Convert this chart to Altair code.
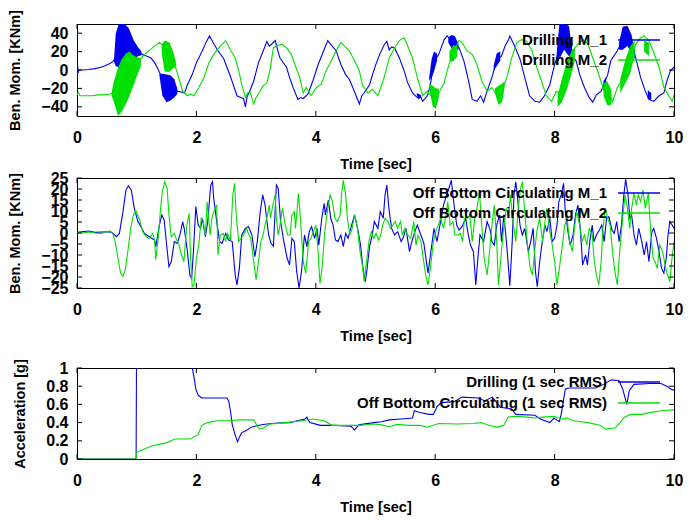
import altair as alt
import pandas as pd

BLUE = "#0000ee"
GREEN = "#00e000"
FONT = "Liberation Sans"

time_ticks = [0, 2, 4, 6, 8, 10]

# ---------------- Panel 1 : Drilling bending moments ----------------
p1_m1 = [(0.00, -10), (0.01, 5), (0.02, -3), (0.03, 0), (0.1, 0), (0.2, 0.5), (0.3, 1.5), (0.4, 3),
         (0.47, 4.5), (0.55, 7), (0.6, 9), (0.63, 12), (0.7, 25), (0.8, 28), (0.9, 24), (1.0, 20),
         (1.05, 18), (1.1, 17), (1.17, 15), (1.24, 13), (1.3, 8), (1.35, 2), (1.4, -5), (1.5, -20),
         (1.6, -22), (1.68, -23), (1.74, -24), (1.8, -25), (1.85, -16), (1.93, -5), (2.0, 8), (2.1, 21),
         (2.16, 30), (2.22, 37), (2.28, 30), (2.35, 22), (2.46, 12), (2.57, -7), (2.68, -28), (2.74, -30),
         (2.79, -31), (2.82, -40), (2.85, -29), (2.9, -22), (2.96, -12), (3.04, 8), (3.12, 21), (3.18, 31),
         (3.22, 26), (3.26, 28), (3.32, 32), (3.36, 22), (3.4, 13), (3.51, 3), (3.56, -8), (3.62, -19),
         (3.7, -32), (3.75, -30), (3.79, -31), (3.87, -26), (3.95, -12), (4.04, 6), (4.12, 19), (4.2, 32),
         (4.26, 27), (4.34, 21), (4.42, 6), (4.5, -5), (4.56, -10), (4.62, -19), (4.7, -32), (4.73, -37),
         (4.77, -28), (4.81, -25), (4.9, -16), (4.95, -5), (5.0, 5), (5.07, 17), (5.15, 28), (5.19, 31),
         (5.23, 22), (5.27, 25), (5.32, 24), (5.4, 13), (5.48, -1), (5.54, -14), (5.62, -25), (5.7, -30),
         (5.75, -28), (5.79, -34), (5.87, -28), (5.92, -16), (5.97, 5), (6.03, 14), (6.06, 17), (6.15, 33),
         (6.2, 37), (6.3, 30), (6.4, 24), (6.48, 10), (6.56, -12), (6.62, -32), (6.7, -34), (6.76, -28),
         (6.81, -35), (6.87, -23), (6.95, -8), (7.0, 3), (7.05, 12), (7.11, 15), (7.17, 26), (7.23, 33),
         (7.25, 37), (7.33, 26), (7.42, 12), (7.5, -8), (7.58, -28), (7.67, -34), (7.75, -35), (7.83, -28),
         (7.92, -16), (8.0, 6), (8.05, 15), (8.18, 35), (8.3, 15), (8.36, 10), (8.42, -5), (8.5, -19),
         (8.58, -30), (8.64, -35), (8.7, -27), (8.78, -23), (8.83, -15), (8.89, -5), (8.94, 10), (9.05, 21),
         (9.14, 32), (9.22, 38), (9.3, 28), (9.36, 13), (9.44, -8), (9.52, -23), (9.58, -32), (9.66, -34),
         (9.75, -28), (9.83, -25), (9.88, -12), (9.94, -1), (10.0, 3)]

p1_m2 = [(0.0, -27), (0.02, -24), (0.05, -28), (0.15, -28), (0.25, -28), (0.35, -27), (0.45, -27),
         (0.55, -26), (0.6, -25), (0.7, -22), (0.8, -12), (0.9, -3), (1.0, 5), (1.1, 15), (1.21, 21),
         (1.3, 26), (1.38, 30), (1.43, 27), (1.5, 15), (1.6, 8), (1.66, 1), (1.71, -10), (1.77, -23),
         (1.85, -28), (1.9, -26), (1.96, -28), (2.04, -19), (2.13, -8), (2.21, 8), (2.29, 17), (2.4, 26),
         (2.49, 32), (2.57, 22), (2.65, 13), (2.71, -1), (2.76, -16), (2.82, -30), (2.86, -25), (2.9, -24),
         (2.96, -37), (3.0, -30), (3.04, -26), (3.12, -17), (3.18, -14), (3.23, -1), (3.29, 24), (3.34, 26),
         (3.43, 28), (3.51, 24), (3.59, 17), (3.65, 6), (3.73, -8), (3.79, -25), (3.84, -19), (3.92, -28),
         (4.01, -19), (4.09, -16), (4.17, -1), (4.26, 10), (4.34, 21), (4.42, 30), (4.48, 26), (4.56, 21),
         (4.65, 10), (4.73, -1), (4.78, -16), (4.87, -25), (4.95, -21), (5.04, -28), (5.09, -19), (5.15, -7),
         (5.23, 13), (5.32, 24), (5.4, 32), (5.48, 35), (5.54, 26), (5.62, 13), (5.7, -8), (5.79, -28),
         (5.87, -23), (5.95, -30), (6.03, -30), (6.06, -25), (6.15, -14), (6.23, 6), (6.31, 20), (6.4, 32),
         (6.45, 30), (6.53, 21), (6.62, 17), (6.7, 6), (6.78, -12), (6.87, -23), (6.95, -19), (7.04, -28),
         (7.11, -25), (7.2, -8), (7.28, 13), (7.37, 30), (7.45, 33), (7.53, 31), (7.62, 21), (7.7, 3),
         (7.78, -12), (7.86, -28), (7.95, -34), (8.03, -23), (8.1, -25), (8.2, -7), (8.31, 21), (8.39, 28),
         (8.48, 33), (8.56, 28), (8.64, 13), (8.72, -1), (8.81, -19), (8.86, -30), (8.92, -25), (8.97, -35),
         (9.05, -19), (9.14, -10), (9.22, 5), (9.3, 15), (9.36, 28), (9.44, 35), (9.5, 37), (9.58, 32),
         (9.66, 19), (9.75, 3), (9.83, -19), (9.91, -28), (9.97, -34), (10.0, -27)]

# vibration bursts: (group, t, low, high)
p1_m1_bursts = [(1, 0.62, 9, 12), (1, 0.65, 4, 40), (1, 0.7, 3, 50), (1, 0.8, 5, 50), (1, 0.87, 8, 45),
                (1, 0.95, 12, 32), (1, 1.02, 15, 25), (1, 1.08, 16, 20),
                (2, 1.38, -6, -4), (2, 1.43, -28, -4), (2, 1.5, -35, -5), (2, 1.57, -33, -6),
                (2, 1.63, -30, -10), (2, 1.68, -26, -20),
                (3, 5.69, -27, -25), (3, 5.72, -32, -26), (3, 5.76, -30, -27),
                (4, 5.9, -12, -8), (4, 5.94, -8, 12), (4, 5.98, -2, 20), (4, 6.03, 10, 18),
                (5, 6.22, 30, 35), (5, 6.27, 24, 38), (5, 6.33, 22, 37), (5, 6.39, 22, 28),
                (6, 6.98, 0, 5), (6, 7.03, 4, 18), (6, 7.09, 10, 20),
                (7, 8.03, 5, 15), (7, 8.08, 12, 50), (7, 8.16, 22, 50), (7, 8.24, 15, 48), (7, 8.3, 10, 20),
                (8, 8.82, -21, -12), (8, 8.86, -20, -8),
                (9, 9.08, 22, 30), (9, 9.14, 22, 47), (9, 9.22, 26, 48), (9, 9.29, 18, 38), (9, 9.34, 12, 20),
                (10, 9.56, -32, -22), (10, 9.62, -32, -25)]

p1_m2_bursts = [(1, 0.58, -28, -24), (1, 0.62, -35, -12), (1, 0.69, -50, 3), (1, 0.75, -45, 12),
                (1, 0.82, -37, 18), (1, 0.88, -28, 20), (1, 0.94, -18, 16), (1, 1.0, -7, 14), (1, 1.07, 4, 13),
                (2, 1.42, 18, 28), (2, 1.47, -2, 32), (2, 1.55, -2, 30), (2, 1.61, 2, 20), (2, 1.66, 4, 8),
                (3, 5.9, -20, -15), (3, 5.96, -40, -17), (3, 6.01, -42, -20), (3, 6.06, -30, -20),
                (4, 6.24, 10, 20), (4, 6.3, 9, 27), (4, 6.37, 15, 26),
                (5, 7.0, -25, -20), (5, 7.06, -38, -17), (5, 7.12, -35, -15), (5, 7.16, -20, -12),
                (6, 8.05, -40, -28), (6, 8.12, -35, -10), (6, 8.2, -22, 8), (6, 8.28, -5, 20), (6, 8.34, 10, 25),
                (7, 8.82, -28, -15), (7, 8.88, -38, -12), (7, 8.95, -38, -22),
                (8, 9.1, -25, -10), (8, 9.18, -15, 10), (8, 9.26, -5, 25), (8, 9.34, 15, 32),
                (9, 9.5, 20, 32), (9, 9.58, 15, 30)]

# ---------------- Panel 2 : Off bottom circulating ----------------
p2_m1 = [(0.0, 0.3), (0.19, 0.9), (0.3, 0.3), (0.52, 0.6), (0.58, 0.3), (0.66, -1.7), (0.71, -0.2),
         (0.77, 9.7), (0.82, 19.5), (0.86, 21.5), (0.91, 19.5), (0.96, 11.2), (1.02, 5.2), (1.07, 2.9),
         (1.13, -0.2), (1.21, -1.7), (1.3, -3.2), (1.32, -6.2), (1.38, 3.6), (1.42, 8.2), (1.46, 5.9),
         (1.51, -7.7), (1.54, -15.3), (1.58, -13), (1.63, -3.9), (1.68, -4.7), (1.73, -0.2), (1.77, 5.2),
         (1.8, 1.4), (1.85, -8.5), (1.89, -19.1), (1.92, -20.6), (1.95, -8.5), (1.99, 12), (2.03, 3.6),
         (2.07, 2.1), (2.1, 6.7), (2.15, -1.7), (2.19, 5.2), (2.24, 21.8), (2.27, 23.3), (2.29, 15.8),
         (2.34, 5.2), (2.39, -3.9), (2.43, -4.7), (2.49, -0.2), (2.54, -3.2), (2.6, -3.9), (2.65, -19.1),
         (2.68, -23.6), (2.72, -16), (2.76, -0.9), (2.82, 2.1), (2.87, 2.9), (2.93, -0.9), (2.98, -10.8),
         (3.02, -3.9), (3.07, 9.7), (3.11, 17.3), (3.15, 12.7), (3.21, -0.9), (3.25, -4.7), (3.29, -6),
         (3.34, 21.8), (3.37, 20.3), (3.41, 5.2), (3.46, -3.2), (3.52, -11.5), (3.56, -14.5), (3.6, -2.4),
         (3.64, -3.9), (3.68, -17.6), (3.72, -25), (3.76, -17.6), (3.81, -0.9), (3.85, -6.2), (3.89, 0.6),
         (3.93, 2.9), (3.98, -2.4), (4.02, 2.1), (4.05, -5.5), (4.1, 6.7), (4.14, 13.5), (4.16, 8.2),
         (4.21, 15), (4.25, 6.7), (4.29, 3.6), (4.33, -3.2), (4.37, -3.9), (4.42, -0.9), (4.46, -6.2),
         (4.5, -0.2), (4.54, -2.4), (4.6, 3.6), (4.65, 8.2), (4.71, 0.6), (4.75, -5.5), (4.79, -16),
         (4.83, -22.1), (4.86, -16), (4.9, -6.2), (4.94, -1.7), (4.98, 5.2), (5.04, 2.1), (5.08, 9.7),
         (5.13, 6.7), (5.16, 17.3), (5.19, 21.8), (5.23, 9.7), (5.27, 2.1), (5.32, -0.9), (5.37, 0.6),
         (5.43, -3.9), (5.47, -1.7), (5.51, 2.1), (5.57, -8.5), (5.6, -4.7), (5.65, -0.2), (5.7, 3.6),
         (5.76, -0.9), (5.81, -4.7), (5.86, -14.5), (5.88, -18.3), (5.92, -10), (5.98, 2.1), (6.03, -3.9),
         (6.09, 5.2), (6.14, 12.7), (6.19, 17.3), (6.23, 20.3), (6.27, 24), (6.31, 14.2), (6.36, 3.6),
         (6.4, 1.4), (6.45, 2.9), (6.51, 6.7), (6.55, -0.2), (6.59, -5.5), (6.64, -8.5), (6.68, -23.6),
         (6.71, -13), (6.75, -0.9), (6.81, -3.9), (6.87, 5.2), (6.92, 1.4), (6.95, -3.9), (6.99, -5.5),
         (7.03, 3.6), (7.08, 8.2), (7.11, -3.9), (7.15, 8.2), (7.2, -6), (7.25, -24), (7.29, -4),
         (7.32, 17.3), (7.35, 23.3), (7.38, 15.8), (7.42, 3.6), (7.46, -0.9), (7.5, 2.1), (7.56, -8.5),
         (7.6, -3.9), (7.64, 2.1), (7.68, -17.6), (7.71, -24.4), (7.75, -13), (7.8, -2.4), (7.84, 3.6),
         (7.87, 0.6), (7.92, 6.7), (7.96, -3.9), (8.0, -2.4), (8.04, 3.6), (8.07, 14.2), (8.11, 17.3),
         (8.15, 22.6), (8.18, 9.7), (8.22, 1.4), (8.26, -5.5), (8.31, -0.9), (8.35, 8.2), (8.39, 12.7),
         (8.43, 2.1), (8.47, -14.5), (8.52, -10), (8.55, -14.5), (8.59, -3.9), (8.63, 3.6), (8.66, -3.9),
         (8.7, -0.9), (8.75, 1.4), (8.79, 3.6), (8.83, -3.9), (8.87, 6.7), (8.91, 7.4), (8.96, 1.4),
         (9.0, -0.2), (9.04, 5.2), (9.08, -3.9), (9.12, 3.6), (9.16, 17.3), (9.19, 24.5), (9.23, 17.3),
         (9.26, 6.7), (9.29, 8.2), (9.33, -0.9), (9.37, -5.5), (9.41, 2.1), (9.46, -3.9), (9.5, -10),
         (9.54, -3.9), (9.58, -13), (9.63, 0.6), (9.66, 2.1), (9.7, -1.7), (9.75, -8.5), (9.79, -16),
         (9.83, -18.3), (9.87, -11.5), (9.9, -0.9), (9.93, 5.2), (9.97, 3.6), (10.0, 2.1)]

p2_m2 = [(0.0, 0.2), (0.1, 0), (0.2, 0.5), (0.3, 0), (0.41, -0.2), (0.55, 1), (0.6, -0.2), (0.64, -4),
         (0.69, -12.1), (0.73, -18.2), (0.77, -19.7), (0.81, -16.7), (0.85, -8.5), (0.9, 2.1), (0.95, 8.9),
         (0.99, 10), (1.05, 5.9), (1.1, 0.6), (1.16, -1.7), (1.21, -2.4), (1.27, -0.2), (1.3, -3.2),
         (1.32, -12.1), (1.36, -2.4), (1.4, 11.2), (1.43, 18.8), (1.47, 23.3), (1.51, 20.3), (1.54, 8.2),
         (1.58, -1.7), (1.63, -0.2), (1.67, -3.2), (1.71, -5.5), (1.75, -10), (1.79, -13), (1.84, 3.6),
         (1.88, 8.9), (1.9, -10), (1.93, -24.4), (1.96, -23.6), (2.0, -11.5), (2.04, -5.5), (2.08, 6.7),
         (2.11, 5.9), (2.15, -0.9), (2.18, 14.2), (2.23, -0.9), (2.26, 6.7), (2.29, 9.7), (2.34, 12.7),
         (2.36, -10), (2.4, -0.9), (2.45, -0.2), (2.49, -3.9), (2.52, -0.2), (2.57, -3.2), (2.61, 17.3),
         (2.64, 22.6), (2.67, 6.7), (2.71, -3.9), (2.75, -2.4), (2.79, -0.9), (2.84, 2.1), (2.87, -0.2),
         (2.91, -2.4), (2.96, -13), (3.0, -21.3), (3.04, -13), (3.08, -3.9), (3.11, -1.7), (3.15, 3.6),
         (3.19, 8.2), (3.22, 12.7), (3.24, 6.7), (3.28, 12.7), (3.32, 17.3), (3.34, 6.7), (3.37, -0.9),
         (3.41, 5.2), (3.44, 11.2), (3.49, 3.6), (3.53, -0.9), (3.57, -0.9), (3.6, 8.2), (3.64, 9.7),
         (3.66, 2.1), (3.71, 18), (3.75, 3.6), (3.79, -13), (3.83, -18.3), (3.88, -3.9), (3.92, -2.4),
         (3.96, 0.6), (4.0, 3.6), (4.03, -5.5), (4.07, -22.9), (4.11, -14.5), (4.15, 0.6), (4.2, 11.2),
         (4.24, 17.3), (4.28, 14.2), (4.32, 6.7), (4.36, 5.2), (4.41, 8.2), (4.43, 17.3), (4.46, 24),
         (4.5, 17.3), (4.53, 6.7), (4.57, -0.9), (4.61, 2.1), (4.65, 8.2), (4.7, 2.1), (4.74, -8.5),
         (4.78, -14.5), (4.81, -22.1), (4.85, -13), (4.89, -3.9), (4.93, 0.6), (4.97, -2.4), (5.01, -0.2),
         (5.05, -3.2), (5.08, -1.7), (5.12, 3.6), (5.16, 6.7), (5.21, 5.2), (5.25, 2.1), (5.29, 3.6),
         (5.33, 5.2), (5.37, 2.1), (5.42, 5.2), (5.45, -0.9), (5.49, 2.1), (5.54, -0.9), (5.59, -2.4),
         (5.64, 5.2), (5.68, -5.5), (5.71, -0.9), (5.76, -3.9), (5.8, -11.5), (5.84, -19.1), (5.88, -23.6),
         (5.92, -16), (5.97, -3.9), (6.01, 0.6), (6.05, 3.6), (6.09, 6.7), (6.14, 2.1), (6.18, 8.2),
         (6.21, 14.2), (6.25, 3.6), (6.3, 5.2), (6.33, -0.9), (6.38, -0.9), (6.42, -0.2), (6.46, -3.9),
         (6.49, 6.7), (6.54, 6.7), (6.58, 8.2), (6.62, -3.9), (6.67, 8.2), (6.7, 11.2), (6.74, 18.8),
         (6.78, 3.6), (6.82, -11.5), (6.87, -19.1), (6.91, -8.5), (6.95, 3.6), (6.99, 12.7), (7.03, -3.9),
         (7.06, -23.6), (7.1, -11.5), (7.14, 0.6), (7.19, 11.2), (7.23, 8.2), (7.26, 17.3), (7.31, 3.6),
         (7.35, -3.9), (7.39, 11.2), (7.43, 20.3), (7.46, 23.3), (7.5, 9.7), (7.54, -3.9), (7.59, -16),
         (7.63, -19.1), (7.67, -7), (7.71, 2.1), (7.75, 6.7), (7.8, -3.9), (7.84, 5.2), (7.87, 11.2),
         (7.92, 0.6), (7.96, -5.5), (8.0, -13), (8.04, -23.6), (8.08, -16), (8.13, -5.5), (8.17, 3.6),
         (8.21, 6.7), (8.25, -3.9), (8.3, -8.5), (8.33, 2.1), (8.37, 9.7), (8.42, 3.6), (8.46, -3.9),
         (8.5, -0.9), (8.54, -5.5), (8.58, 2.1), (8.63, -0.9), (8.66, -11.5), (8.7, -19.1), (8.74, -23.6),
         (8.78, -13), (8.81, 2.1), (8.85, 11.2), (8.89, 6.7), (8.93, 3.6), (8.97, -8.5), (9.01, -17.6),
         (9.05, -23.6), (9.09, -8.5), (9.14, 6.7), (9.18, 17.3), (9.22, 11.2), (9.26, 2.1), (9.29, 11.2),
         (9.33, 18), (9.37, 12.7), (9.4, 17.3), (9.44, 14.2), (9.48, 19.5), (9.52, 11.2), (9.57, 18),
         (9.61, 0.6), (9.65, -11.5), (9.68, -13), (9.72, -16), (9.76, -5.5), (9.81, -8.5), (9.85, -14.5),
         (9.89, -19.1), (9.93, -22.1), (9.96, -13), (10.0, -3.9)]

# ---------------- Panel 3 : 1 sec RMS acceleration ----------------
p3_drill = [(0.0, 0), (0.99, 0), (1.0, 1.6), (1.5, 1.4), (1.9, 1.1), (1.93, 1.0), (1.96, 0.9), (1.99, 0.77),
            (2.03, 0.70), (2.09, 0.67), (2.51, 0.67), (2.54, 0.64), (2.57, 0.53), (2.6, 0.38), (2.65, 0.26),
            (2.69, 0.19), (2.72, 0.24), (2.76, 0.29), (2.83, 0.31), (2.92, 0.35), (3.05, 0.37), (3.18, 0.385),
            (3.37, 0.395), (3.56, 0.40), (3.82, 0.44), (3.85, 0.46), (3.9, 0.40), (4.08, 0.37), (4.33, 0.37),
            (4.59, 0.36), (4.65, 0.32), (4.72, 0.375), (4.97, 0.40), (5.1, 0.41), (5.23, 0.43), (5.42, 0.44),
            (5.62, 0.45), (5.65, 0.53), (5.74, 0.51), (5.9, 0.49), (5.97, 0.49), (6.03, 0.575), (6.1, 0.62),
            (6.32, 0.63), (6.45, 0.68), (6.71, 0.67), (6.83, 0.64), (6.96, 0.68), (7.03, 0.62), (7.09, 0.57),
            (7.28, 0.55), (7.35, 0.49), (7.67, 0.48), (7.76, 0.44), (7.92, 0.40), (7.99, 0.45), (8.08, 0.41),
            (8.11, 0.49), (8.18, 0.77), (8.24, 0.78), (8.69, 0.78), (8.82, 0.82), (8.95, 0.87), (9.08, 0.86),
            (9.14, 0.77), (9.21, 0.60), (9.25, 0.75), (9.33, 0.82), (9.59, 0.83), (9.78, 0.83), (9.88, 0.80),
            (9.97, 0.76), (10.0, 0.76)]

p3_circ = [(0.0, 0), (0.99, 0), (1.0, 0.073), (1.13, 0.11), (1.26, 0.146), (1.51, 0.18), (1.64, 0.22),
           (1.9, 0.22), (2.03, 0.27), (2.09, 0.37), (2.19, 0.40), (2.35, 0.42), (2.54, 0.42), (2.73, 0.43),
           (2.96, 0.43), (3.05, 0.33), (3.12, 0.34), (3.24, 0.385), (3.5, 0.40), (3.76, 0.42), (3.95, 0.44),
           (4.14, 0.42), (4.27, 0.37), (4.46, 0.37), (4.72, 0.37), (4.97, 0.385), (5.1, 0.375), (5.23, 0.355),
           (5.36, 0.38), (5.55, 0.37), (5.74, 0.37), (5.87, 0.35), (6.06, 0.39), (6.38, 0.385), (6.64, 0.39),
           (6.77, 0.40), (6.9, 0.37), (7.03, 0.35), (7.15, 0.37), (7.22, 0.46), (7.35, 0.47), (7.54, 0.46),
           (7.67, 0.45), (7.8, 0.46), (7.99, 0.47), (8.12, 0.44), (8.21, 0.45), (8.31, 0.42), (8.56, 0.40),
           (8.76, 0.37), (8.85, 0.33), (9.01, 0.34), (9.08, 0.385), (9.17, 0.46), (9.27, 0.49), (9.46, 0.49),
           (9.59, 0.51), (9.78, 0.53), (9.97, 0.54), (10.0, 0.54)]

p1_yticks = [-40, -20, 0, 20, 40]
p2_yticks = [-25, -20, -15, -10, -5, 0, 5, 10, 15, 20, 25]
p3_yticks = [0, 0.2, 0.4, 0.6, 0.8, 1]

p1_labels = ["Drilling M_1", "Drilling M_2"]
p2_labels = ["Off Bottom Circulating M_1", "Off Bottom Circulating M_2"]
p3_labels = ["Drilling (1 sec RMS)", "Off Bottom Circulating (1 sec RMS)"]

W = 597


def line_df(pairs):
    return pd.DataFrame(pairs, columns=["t", "v"])


def band_df(rows):
    return pd.DataFrame(rows, columns=["g", "t", "lo", "hi"])


def panel(H, ydom, yticks, ytitle, fmt, series, bands, labels, leg_y):
    xs = alt.Scale(domain=[0, 10], nice=False, zero=False)
    ys = alt.Scale(domain=ydom, nice=False, zero=False)
    xaxis = alt.Axis(values=time_ticks, title="Time [sec]", grid=False, ticks=False, tickSize=0,
                     domain=False, labelPadding=13, titlePadding=12, labelFlush=False, format="d")
    yaxis = alt.Axis(values=yticks, title=ytitle, grid=False, ticks=False, tickSize=0, domain=False,
                     labelPadding=9, titlePadding=18, labelFlush=False, labelOverlap=False, format=fmt)

    def X(field="t"):
        return alt.X(field + ":Q", scale=xs, axis=xaxis)

    def Y(field="v"):
        return alt.Y(field + ":Q", scale=ys, axis=yaxis)

    layers = []
    for (pairs, color), brows in zip(series, bands):
        if brows:
            layers.append(alt.Chart(band_df(brows)).mark_area(color=color, clip=True, opacity=1).encode(
                x=X(), y=Y("lo"), y2="hi:Q", detail="g:N"))
        layers.append(alt.Chart(line_df(pairs)).mark_line(color=color, strokeWidth=1.1, clip=True).encode(
            x=X(), y=Y()))

    xt = pd.DataFrame({"t": time_ticks})
    yt = pd.DataFrame({"v": yticks})
    layers.append(alt.Chart(xt).mark_rule(color="black", strokeWidth=1).encode(
        x=X(), y=alt.value(H), y2=alt.value(H - 5)))
    layers.append(alt.Chart(xt).mark_rule(color="black", strokeWidth=1).encode(
        x=X(), y=alt.value(0), y2=alt.value(5)))
    layers.append(alt.Chart(yt).mark_rule(color="black", strokeWidth=1).encode(
        y=Y(), x=alt.value(0), x2=alt.value(5)))
    layers.append(alt.Chart(yt).mark_rule(color="black", strokeWidth=1).encode(
        y=Y(), x=alt.value(W), x2=alt.value(W - 5)))

    for (pairs, color), label, ly in zip(series, labels, leg_y):
        layers.append(alt.Chart(pd.DataFrame({"label": [label]})).mark_text(
            align="right", baseline="middle", font=FONT, fontSize=15, fontWeight="bold", color="black").encode(
            text="label:N", x=alt.value(530), y=alt.value(ly)))
        layers.append(alt.Chart(pd.DataFrame({"label": [label]})).mark_rule(
            color=color, strokeWidth=1.5).encode(x=alt.value(541), x2=alt.value(583), y=alt.value(ly)))

    return alt.layer(*layers).properties(width=W, height=H)


def spacer(h):
    return alt.Chart(pd.DataFrame({"s": [0]})).mark_point(opacity=0).encode(
        x=alt.value(0), y=alt.value(0)).properties(
        width=W, height=h, view=alt.ViewBackground(stroke="transparent"))


p1 = panel(92, [-50, 50], p1_yticks, "Ben. Mom. [KNm]", "d",
           [(p1_m1, BLUE), (p1_m2, GREEN)], [p1_m1_bursts, p1_m2_bursts], p1_labels, [16, 36])
p2 = panel(110, [-25, 25], p2_yticks, "Ben. Mom. [KNm]", "d",
           [(p2_m1, BLUE), (p2_m2, GREEN)], [[], []], p2_labels, [15, 35])
p3 = panel(91, [0, 1], p3_yticks, "Acceleration [g]", "",
           [(p3_drill, BLUE), (p3_circ, GREEN)], [[], []], p3_labels, [14, 35])

# fixed page geometry: svg 675 x 509, first plot area starting at (77, 24) on the page
chart = alt.vconcat(p1, spacer(22), p2, spacer(40), p3, spacing=20, bounds="flush").properties(
    autosize=alt.AutoSizeParams(type="none"),
    padding={"left": 69, "top": 16, "right": 9, "bottom": 493}
).configure_view(stroke="black", strokeWidth=1).configure_axis(
    labelFont=FONT, labelFontSize=16, labelFontWeight="bold", labelColor="black",
    titleFont=FONT, titleFontSize=14.5, titleFontWeight="bold", titleColor="black"
)

chart.save("out.html", embed_options={"renderer": "svg", "actions": False})
